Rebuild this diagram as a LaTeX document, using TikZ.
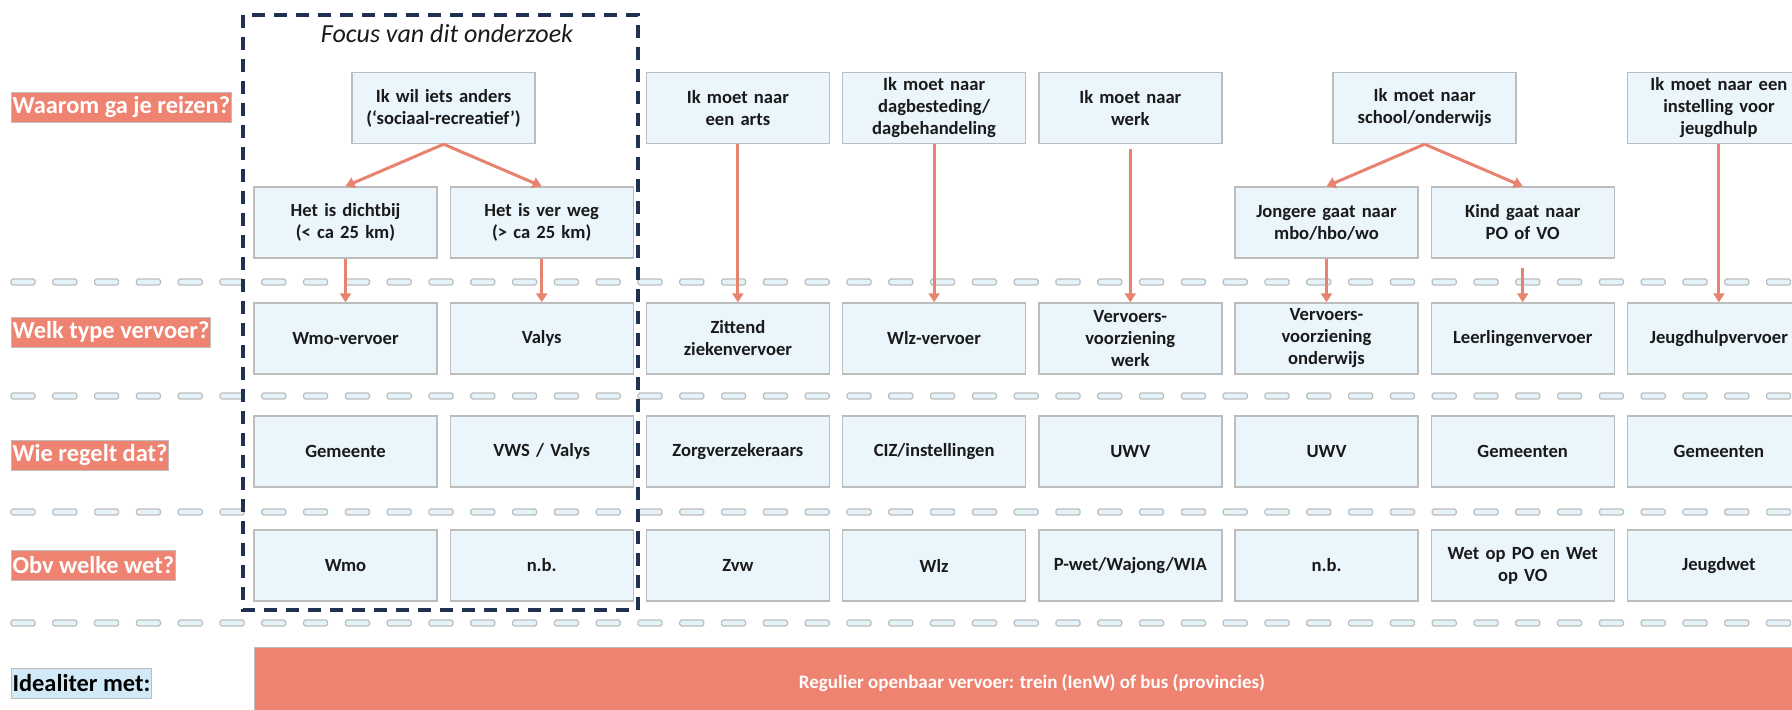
\documentclass[tikz,border=0pt]{standalone}
\usepackage{fontspec}
\setmainfont{Carlito}
\usetikzlibrary{arrows.meta}
\definecolor{salmon}{HTML}{EE8371}
\definecolor{boxfill}{HTML}{EAF5FC}
\definecolor{boxline}{HTML}{BDBDBD}
\definecolor{navy}{HTML}{1F3050}
\definecolor{lblue}{HTML}{D2EAF7}
\definecolor{arrowc}{HTML}{E8836F}
\definecolor{dashfill}{HTML}{E4F2FA}
\definecolor{txt}{HTML}{1A1A1A}
\tikzset{
 cbox/.style={draw=boxline, line width=0.7pt, fill=boxfill, minimum width=91.5pt, minimum height=35.5pt, text width=88pt, align=center, inner sep=0pt, font=\bfseries\fontsize{9.3}{11}\selectfont, text=txt},
 lbl/.style={anchor=west, fill=salmon, draw=boxline, line width=0.4pt, text=white, font=\bfseries\fontsize{12.2}{14}\selectfont, inner xsep=0.6pt, inner ysep=1.5pt, minimum height=15pt},
 arr/.style={draw=arrowc, line width=1.5pt, -{Triangle[length=4.5pt,width=5.5pt]}},
 sepdash/.style={fill=dashfill, draw=boxline, line width=0.6pt, rounded corners=0.8pt},
 focus/.style={draw=navy, line width=1.6pt, dash pattern=on 6.5pt off 4.5pt},
}
\begin{document}
\begin{tikzpicture}[x=0.5pt,y=-0.5pt]
\useasboundingbox (0,0) rectangle (1792,710);
\clip (0,0) rectangle (1792,710);
\fill[white] (0,0) rectangle (1792,710);

% separators
\foreach \yy in {282,396,512,623}{
  \foreach \i in {0,...,42}{
    \draw[sepdash] ({11+41.8*\i},\yy-3) rectangle ({35+41.8*\i},\yy+3);
  }
}

% left labels
\node[lbl] (l1) at (11,107) {Waarom ga je reizen?};
\node[lbl] (l2) at (11,332) {Welk type vervoer?};
\node[lbl] (l3) at (11,455) {Wie regelt dat?};
\node[lbl] (l4) at (11,565) {Obv welke wet?};
\node[lbl, fill=lblue, text=black] (l5) at (11,683) {Idealiter met:};

% top row
\node[cbox] (t0) at (443.6,108) {Ik wil iets anders\\(‘sociaal-recreatief’)};
\node[cbox] (t2) at (737.9,108) {Ik moet naar\\een arts};
\node[cbox] (t3) at (934.1,108) {Ik moet naar\\dagbesteding/\\dagbehandeling};
\node[cbox] (t4) at (1130.3,108) {Ik moet naar\\werk};
\node[cbox] (t5) at (1424.6,108) {Ik moet naar\\school/onderwijs};
\node[cbox] (t7) at (1718.9,108) {Ik moet naar een\\instelling voor\\jeugdhulp};

% sub row
\node[cbox] (s0) at (345.5,222.5) {Het is dichtbij\\(< ca 25 km)};
\node[cbox] (s1) at (541.7,222.5) {Het is ver weg\\(> ca 25 km)};
\node[cbox] (s5) at (1326.5,222.5) {Jongere gaat naar\\mbo/hbo/wo};
\node[cbox] (s6) at (1522.7,222.5) {Kind gaat naar\\PO of VO};

% type row
\node[cbox] (a0) at (345.5,338.5) {Wmo-vervoer};
\node[cbox] (a1) at (541.7,338.5) {Valys};
\node[cbox] (a2) at (737.9,338.5) {Zittend\\ziekenvervoer};
\node[cbox] (a3) at (934.1,338.5) {Wlz-vervoer};
\node[cbox] (a4) at (1130.3,338.5) {Vervoers-\\voorziening\\werk};
\node[cbox] (a5) at (1326.5,338.5) {Vervoers-\\voorziening\\onderwijs};
\node[cbox] (a6) at (1522.7,338.5) {Leerlingenvervoer};
\node[cbox] (a7) at (1718.9,338.5) {Jeugdhulpvervoer};

% who row
\node[cbox] (b0) at (345.5,451.5) {Gemeente};
\node[cbox] (b1) at (541.7,451.5) {VWS / Valys};
\node[cbox] (b2) at (737.9,451.5) {Zorgverzekeraars};
\node[cbox] (b3) at (934.1,451.5) {CIZ/instellingen};
\node[cbox] (b4) at (1130.3,451.5) {UWV};
\node[cbox] (b5) at (1326.5,451.5) {UWV};
\node[cbox] (b6) at (1522.7,451.5) {Gemeenten};
\node[cbox] (b7) at (1718.9,451.5) {Gemeenten};

% law row
\node[cbox] (c0) at (345.5,565.5) {Wmo};
\node[cbox] (c1) at (541.7,565.5) {n.b.};
\node[cbox] (c2) at (737.9,565.5) {Zvw};
\node[cbox] (c3) at (934.1,565.5) {Wlz};
\node[cbox] (c4) at (1130.3,565.5) {P-wet/Wajong/WIA};
\node[cbox] (c5) at (1326.5,565.5) {n.b.};
\node[cbox] (c6) at (1522.7,565.5) {Wet op PO en Wet\\op VO};
\node[cbox] (c7) at (1718.9,565.5) {Jeugdwet};

% bottom bar
\node[fill=salmon, draw=boxline, line width=0.5pt, minimum width=778pt, minimum height=36pt, inner sep=0pt, text=white, font=\bfseries\fontsize{9.5}{11}\selectfont] (bar) at (1032,683) {Regulier openbaar vervoer: trein (IenW) of bus (provincies)};

% focus box
\node[font=\itshape\fontsize{13}{15}\selectfont, text=txt] (ft) at (447,34) {Focus van dit onderzoek};
\draw[focus] (243,15) rectangle (638,610);

% arrows
\draw[arr] (t0.south) -- (s0.north);
\draw[arr] (t0.south) -- (s1.north);
\draw[arr] (s0.south) -- (a0.north);
\draw[arr] (s1.south) -- (a1.north);
\draw[arr] (t2.south) -- (a2.north);
\draw[arr] (t3.south) -- (a3.north);
\draw[arr, shorten <=2.5pt] (t4.south) -- (a4.north);
\draw[arr] (t5.south) -- (s5.north);
\draw[arr] (t5.south) -- (s6.north);
\draw[arr] (s5.south) -- (a5.north);
\draw[arr, shorten <=4.5pt] (s6.south) -- (a6.north);
\draw[arr] (t7.south) -- (a7.north);
\end{tikzpicture}
\end{document}
